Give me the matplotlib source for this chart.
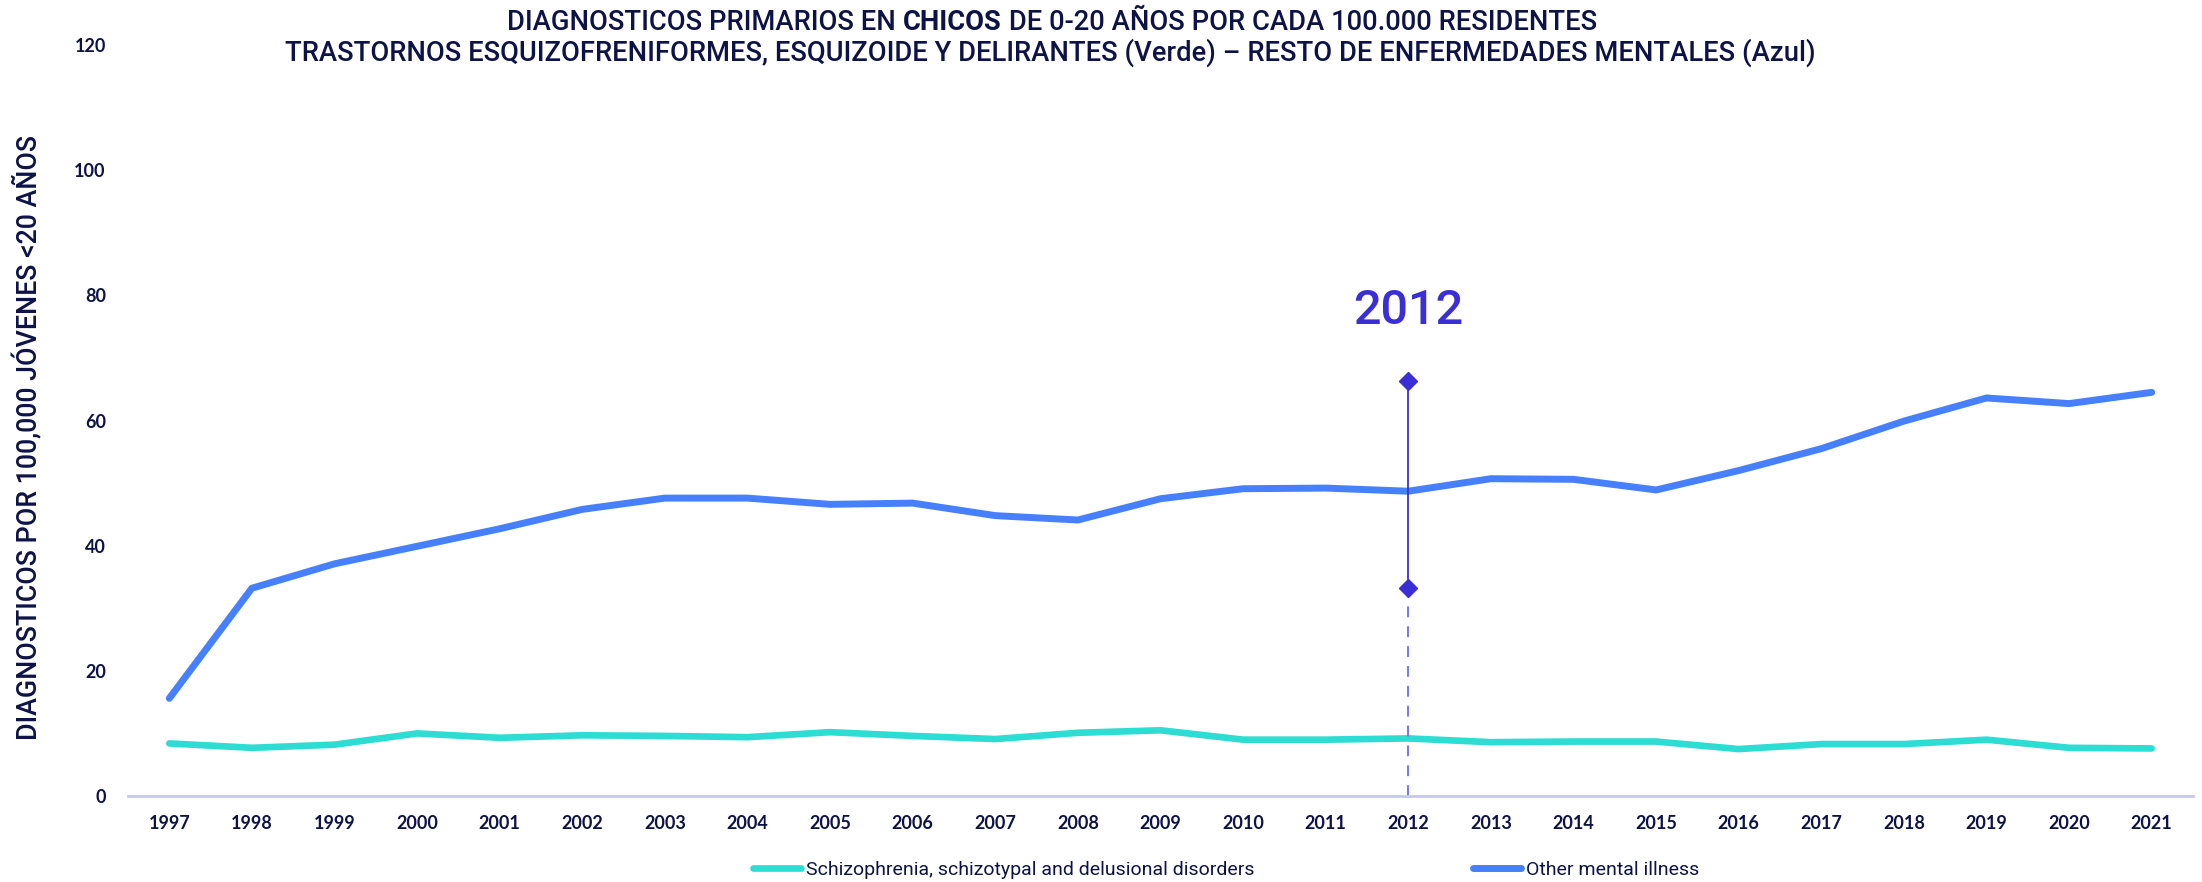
import matplotlib
matplotlib.use("Agg")
import matplotlib.pyplot as plt

# datos
years = [str(y) for y in range(1997, 2022)]
schizo = [8.4, 7.7, 8.2, 10.0, 9.3, 9.7, 9.6, 9.4, 10.2, 9.6, 9.1, 10.1, 10.5,
          9.0, 9.0, 9.2, 8.6, 8.7, 8.7, 7.5, 8.3, 8.3, 9.0, 7.7, 7.6]
other = [15.6, 33.2, 37.1, 39.9, 42.7, 45.8, 47.6, 47.6, 46.6, 46.8, 44.8, 44.1, 47.5,
         49.1, 49.2, 48.7, 50.7, 50.6, 48.9, 52.0, 55.5, 59.9, 63.6, 62.7, 64.5]
labels = ["Schizophrenia, schizotypal and delusional disorders", "Other mental illness"]
mark_year = "2012"
mark_range = [33.2, 66.3]

NAVY = "#0d1347"
GREEN = "#2ddcd3"
BLUE = "#4680ff"
MARK = "#3a2fd6"
NARROW = ["Roboto", "DejaVu Sans"]

W, H = 2202, 882
fig = plt.figure(figsize=(W / 100, H / 100), dpi=100)
ax = fig.add_axes([128 / W, 1 - 796 / H, (2193 - 128) / W, (796 - 45) / H])

x = range(len(years))
ax.plot(x, schizo, color=GREEN, lw=4.8, solid_capstyle="round", label=labels[0])
ax.plot(x, other, color=BLUE, lw=5.0, solid_capstyle="round", label=labels[1])

# marca 2012
i = years.index(mark_year)
ax.plot([i, i], [0, mark_range[0]], color="#6b6bf0", lw=1.3, ls=(0, (6, 5)))
ax.plot([i, i], mark_range, color=MARK, lw=1.3, marker="D", ms=9, mec=MARK, mfc=MARK)
ax.text(i, 77.5, mark_year, color=MARK, fontsize=35, fontweight="medium",
        family=["Roboto", "DejaVu Sans"], ha="center", va="center")

ax.set_xlim(-0.5, len(years) - 0.5)
ax.set_ylim(0, 120)
ax.set_xticks(list(x))
ax.set_xticklabels(years)
ax.set_yticks(range(0, 121, 20))
ax.tick_params(length=0, labelsize=13, labelcolor=NAVY, pad=14)
ax.tick_params(axis="y", pad=16)
for t in ax.get_xticklabels() + ax.get_yticklabels():
    t.set_family(["Lato", "DejaVu Sans"])
    t.set_fontweight("bold")
for s in ["top", "right", "left"]:
    ax.spines[s].set_visible(False)
ax.spines["bottom"].set_color("#c5c8f5")
ax.spines["bottom"].set_linewidth(2)

fig.text(28 / W, 1 - 437 / H, "DIAGNOSTICOS POR 100,000 JÓVENES <20 AÑOS", rotation=90,
         ha="center", va="center", color=NAVY, fontsize=19.3, fontweight="medium", family=NARROW)

leg = fig.legend(loc="center", bbox_to_anchor=(1226 / W, 1 - 870 / H), ncol=2, frameon=False,
                 handlelength=2.5, columnspacing=11.2, handletextpad=0.25,
                 prop={"family": NARROW, "size": 14})
for t in leg.get_texts():
    t.set_color(NAVY)

# titulo con CHICOS en negrita
fig.canvas.draw()
r = fig.canvas.get_renderer()
sub = fig.text(1050 / W, 1 - 53 / H,
               "TRASTORNOS ESQUIZOFRENIFORMES, ESQUIZOIDE Y DELIRANTES (Verde) – RESTO DE ENFERMEDADES MENTALES (Azul)",
               ha="center", va="center", color=NAVY, fontsize=20, fontweight="medium", family=NARROW)
# ajustar tamaño al ancho del original
tsize = 20 * 1523 / sub.get_window_extent(r).width
sub.set_fontsize(tsize)

parts = [("DIAGNOSTICOS PRIMARIOS EN ", "medium"), ("CHICOS", "bold"),
         (" DE 0-20 AÑOS POR CADA 100.000 RESIDENTES", "medium")]
texts = [fig.text(0, 1 - 22 / H, s, fontweight=w, color=NAVY, fontsize=tsize,
                  family=NARROW, va="center") for s, w in parts]
widths = [t.get_window_extent(r).width for t in texts]
x0 = 1052 - sum(widths) / 2
for t, w in zip(texts, widths):
    t.set_x(x0 / W)
    x0 += w

fig.savefig("out.png", dpi=100)
